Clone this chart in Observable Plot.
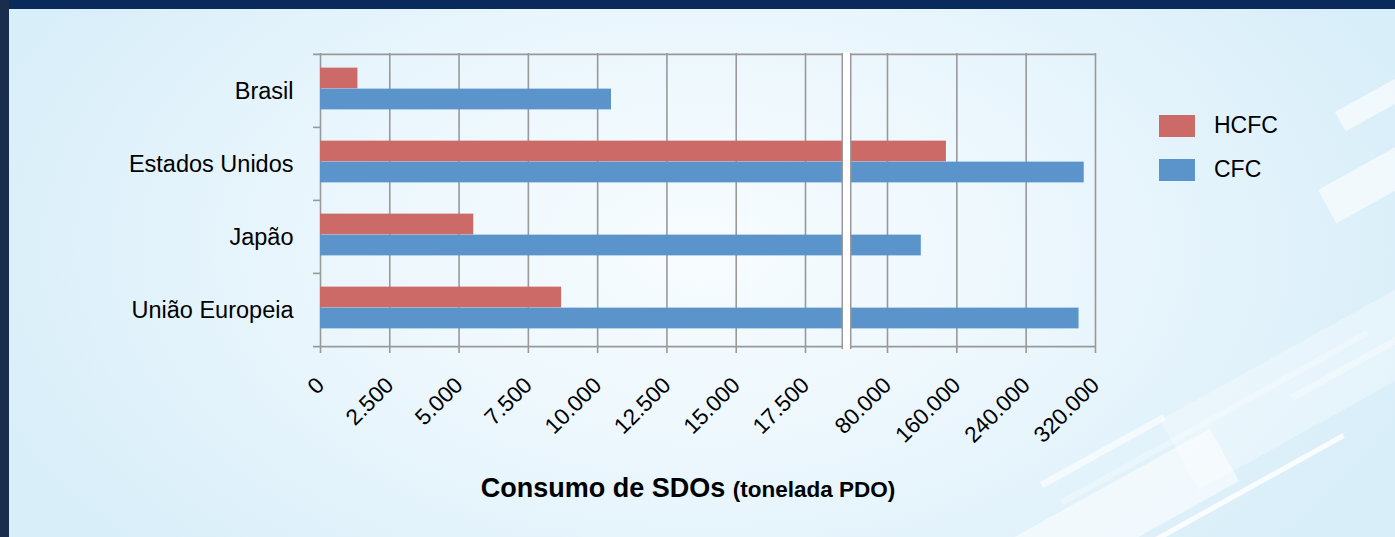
<!DOCTYPE html>
<html>
<head>
<meta charset="utf-8">
<script src="https://cdn.jsdelivr.net/npm/d3@7"></script>
<script src="https://cdn.jsdelivr.net/npm/@observablehq/plot@0.6"></script>
<style>
html, body { margin: 0; padding: 0; }
body {
  width: 1395px; height: 537px; overflow: hidden; position: relative;
  font-family: "Liberation Sans", Arial, sans-serif;
  background: radial-gradient(ellipse 760px 460px at 700px 250px, #f7fcff 0%, #ecf7fd 45%, #d8eef9 100%);
}
#topbar { position: absolute; left: 0; top: 0; width: 1395px; height: 9px; background: #0a2a5b; }
#leftbar { position: absolute; left: 0; top: 0; width: 9px; height: 537px; background: #1b2d4d; }
.stripe { position: absolute; background: rgba(255,255,255,0.45); transform-origin: 0 0; transform: rotate(-29deg); }
#chart { position: absolute; left: 0; top: 0; }
#title { position: absolute; left: 0; width: 1376px; top: 472px; line-height: 32px; text-align: center;
  font-weight: bold; font-size: 27px; color: #000; }
#title span { font-size: 22.5px; }
.lg-sw { position: absolute; width: 36px; height: 22px; }
.lg-tx { position: absolute; font-size: 23px; line-height: 26px; color: #000; }
</style>
</head>
<body>
<div class="stripe" style="left:1160px;top:420px;width:300px;height:80px;background:rgba(255,255,255,0.3)"></div>
<div class="stripe" style="left:1000px;top:545px;width:240px;height:60px;background:rgba(255,255,255,0.55)"></div>
<div class="stripe" style="left:1040px;top:482px;width:140px;height:7px;background:rgba(255,255,255,0.6)"></div>
<div class="stripe" style="left:1150px;top:540px;width:220px;height:5px;background:rgba(255,255,255,0.85)"></div>
<div class="stripe" style="left:1060px;top:500px;width:350px;height:6px;background:rgba(255,255,255,0.3)"></div>
<div class="stripe" style="left:1290px;top:395px;width:160px;height:7px;background:rgba(255,255,255,0.35)"></div>
<div class="stripe" style="left:1335px;top:112px;width:90px;height:22px;background:rgba(255,255,255,0.6)"></div>
<div class="stripe" style="left:1318px;top:190px;width:110px;height:38px;background:rgba(255,255,255,0.6)"></div>
<div id="topbar"></div>
<div id="leftbar"></div>
<div id="chart"></div>
<div id="title">Consumo de SDOs <span>(tonelada PDO)</span></div>
<div id="legend"></div>
<script>
// ---- data ----
const countries = ["Brasil", "Estados Unidos", "Japão", "União Europeia"];
const seriesNames = ["HCFC", "CFC"];
const seriesColors = ["#cc6a67", "#5b93cb"];
const hcfcValues = [1350, 148000, 5530, 8700];
const cfcValues = [10500, 307000, 119000, 301000];
const xTickValues = [0, 2500, 5000, 7500, 10000, 12500, 15000, 17500, 80000, 160000, 240000, 320000];
const xScaleBreaks = [0, 17500, 80000, 320000];

const table = countries.flatMap((c, i) => [
  {country: c, series: seriesNames[0], value: hcfcValues[i]},
  {country: c, series: seriesNames[1], value: cfcValues[i]}
]);

// ---- layout ----
const W = 1130, H = 465, mT = 53, mB = 119, mL = 320, mR = 35;
const bw = (H - mT - mB) / countries.length;
const barH = 21;
const gap = (bw - 2 * barH) / 2 - 2;
const grid = "#999";

const ptBR = d3.formatLocale({decimal: ",", thousands: ".", grouping: [3], currency: ["R$ ", ""]});
const fmt = ptBR.format(",d");
const breakValue = (xScaleBreaks[1] + xScaleBreaks[2]) / 2;

const chart = Plot.plot({
  width: W, height: H, marginTop: mT, marginBottom: mB, marginLeft: mL, marginRight: mR,
  style: {background: "transparent", fontFamily: "Liberation Sans, Arial, sans-serif", color: "#000"},
  x: {type: "linear", domain: xScaleBreaks, range: [mL, 805, 887, W - mR], label: null},
  y: {domain: countries, padding: 0, label: null},
  color: {domain: seriesNames, range: seriesColors},
  marks: [
    Plot.ruleX(xTickValues, {stroke: grid, strokeWidth: 1.6}),
    Plot.ruleY([countries[0]], {dy: -bw / 2, insetLeft: -7, stroke: grid, strokeWidth: 1.6}),
    Plot.ruleY(countries.slice(1), {x1: 0, x2: 0, dy: -bw / 2, insetLeft: -7, stroke: grid, strokeWidth: 1.6}),
    Plot.ruleY([countries[countries.length - 1]], {dy: bw / 2, insetLeft: -7, stroke: grid, strokeWidth: 1.6}),
    Plot.barX(table.filter(d => d.series === seriesNames[0]),
      {x: "value", y: "country", fill: "series", insetTop: gap, insetBottom: bw - gap - barH}),
    Plot.barX(table.filter(d => d.series === seriesNames[1]),
      {x: "value", y: "country", fill: "series", insetTop: gap + barH, insetBottom: bw - gap - 2 * barH}),
    Plot.ruleX([breakValue], {stroke: grid, strokeWidth: 10, insetBottom: -3}),
    Plot.ruleX([breakValue], {stroke: "white", strokeWidth: 7, insetBottom: -4, insetTop: -1}),
    Plot.axisX({ticks: xTickValues, tickFormat: fmt, tickRotate: -45, tickSize: 7, tickPadding: 28,
      stroke: grid, strokeWidth: 1.6, strokeOpacity: 1, fontSize: 22.5, fill: "#000", label: null}),
    Plot.axisY({tickSize: 0, tickPadding: 27, fontSize: 23.5, fill: "#000", label: null})
  ]
});
document.getElementById("chart").appendChild(chart);

// legend
const legend = document.getElementById("legend");
seriesNames.forEach((s, i) => {
  const sw = document.createElement("div");
  sw.className = "lg-sw";
  sw.style.left = "1159px";
  sw.style.top = (115 + i * 44) + "px";
  sw.style.background = seriesColors[i];
  legend.appendChild(sw);
  const tx = document.createElement("div");
  tx.className = "lg-tx";
  tx.style.left = "1214px";
  tx.style.top = (112 + i * 44) + "px";
  tx.textContent = s;
  legend.appendChild(tx);
});
</script>
</body>
</html>
